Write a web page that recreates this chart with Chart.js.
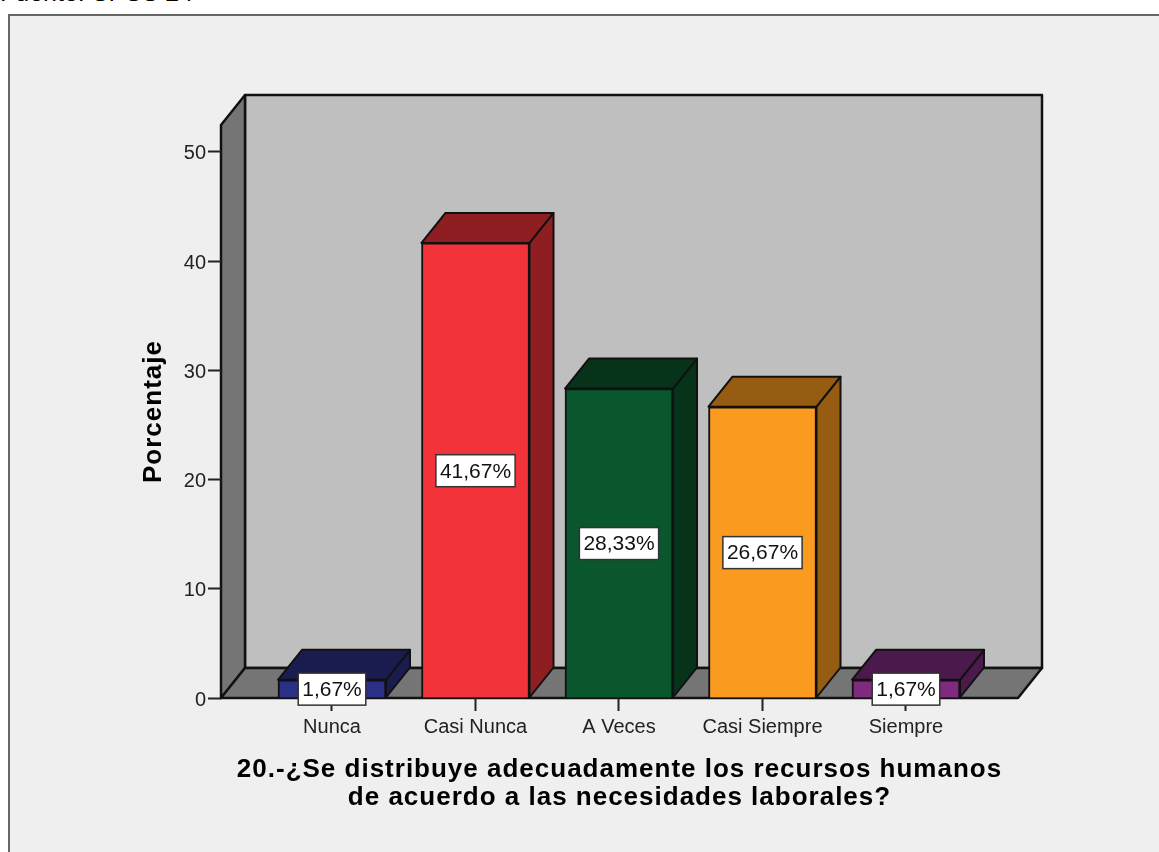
<!DOCTYPE html>
<html>
<head>
<meta charset="utf-8">
<title>Recursos humanos</title>
<script src="https://cdn.jsdelivr.net/npm/chart.js@4/dist/chart.umd.min.js"></script>
<style>
  html, body { margin: 0; background: #fff; overflow: hidden; }
  #source { position: absolute; left: 0; top: -23px; font: 25px/30px "Liberation Sans", sans-serif; color: #000; white-space: nowrap; }
  #frame { position: absolute; left: 8px; top: 14px; width: 1300px; height: 1000px; box-sizing: border-box; border: 2px solid #666; background: #efefef; }
  canvas { position: absolute; left: 0; top: 0; }
</style>
</head>
<body>
<div id="source">Fuente: SPSS 24</div>
<div id="frame"></div>
<canvas id="chart" width="1159" height="852"></canvas>
<script>
const categories = ["Nunca", "Casi Nunca", "A Veces", "Casi Siempre", "Siempre"];
const percentages = [1.67, 41.67, 28.33, 26.67, 1.67];
const frontColors = ["#2b2f85", "#f3333a", "#0b572d", "#fa9a1e", "#7e2a7e"];
const shadeColors = ["#1a1c50", "#8f1e22", "#07331a", "#955c12", "#4b194b"];
const yTicks = [0, 10, 20, 30, 40, 50];

const xTitle = ["20.-¿Se distribuye adecuadamente los recursos humanos", "de acuerdo a las necesidades laborales?"];
const yTitle = "Porcentaje";

const ink = "#111";
const depthX = 24, depthY = 30;

function poly(ctx, pts, fill, width) {
  ctx.beginPath();
  pts.forEach((p, i) => i ? ctx.lineTo(p[0], p[1]) : ctx.moveTo(p[0], p[1]));
  ctx.closePath();
  ctx.fillStyle = fill;
  ctx.fill();
  ctx.lineWidth = width;
  ctx.lineJoin = "round";
  ctx.strokeStyle = ink;
  ctx.stroke();
}

// back wall, side wall and floor of the box
const walls = {
  id: "walls",
  beforeDraw(chart) {
    const { ctx, chartArea: a } = chart;
    ctx.save();
    poly(ctx, [[a.left + depthX, a.top - depthY], [a.right + depthX, a.top - depthY], [a.right + depthX, a.bottom - depthY], [a.left + depthX, a.bottom - depthY]], "#bfbfbf", 2.5);
    poly(ctx, [[a.left, a.top], [a.left + depthX, a.top - depthY], [a.left + depthX, a.bottom - depthY], [a.left, a.bottom]], "#757575", 2.5);
    poly(ctx, [[a.left, a.bottom], [a.left + depthX, a.bottom - depthY], [a.right + depthX, a.bottom - depthY], [a.right, a.bottom]], "#757575", 2.5);
    ctx.restore();
    // the axis titles are drawn spaced out, the tick labels are not
    ctx.letterSpacing = "1px";
  },
  beforeDatasetsDraw(chart) {
    const ctx = chart.ctx;
    ctx.letterSpacing = "0px";
    ctx.save();
    chart.getDatasetMeta(0).data.forEach((bar, i) => {
      const l = bar.x - bar.width / 2, r = bar.x + bar.width / 2;
      poly(ctx, [[r, bar.y], [r + depthX, bar.y - depthY], [r + depthX, bar.base - depthY], [r, bar.base]], shadeColors[i], 2);
      poly(ctx, [[l, bar.y], [l + depthX, bar.y - depthY], [r + depthX, bar.y - depthY], [r, bar.y]], shadeColors[i], 2);
    });
    ctx.restore();
  }
};

// white value boxes in the middle of each bar, sized to their text
const valueBoxes = {
  id: "valueBoxes",
  afterDatasetsDraw(chart) {
    const ctx = chart.ctx;
    ctx.save();
    ctx.font = '21px "Liberation Sans"';
    ctx.textAlign = "center";
    ctx.textBaseline = "middle";
    chart.getDatasetMeta(0).data.forEach((bar, i) => {
      const text = percentages[i].toFixed(2).replace(".", ",") + "%";
      const cy = (bar.y + bar.base) / 2 + 0.5;
      const w = ctx.measureText(text).width + 8, h = 32;
      ctx.fillStyle = "#fff";
      ctx.fillRect(bar.x - w / 2, cy - h / 2, w, h);
      ctx.strokeStyle = "#333";
      ctx.lineWidth = 1.5;
      ctx.strokeRect(bar.x - w / 2, cy - h / 2, w, h);
      ctx.fillStyle = "#111";
      ctx.fillText(text, bar.x, cy + 1);
    });
    ctx.restore();
  }
};

new Chart(document.getElementById("chart"), {
  type: "bar",
  data: {
    datasets: [{
      data: categories.map((c, i) => ({ x: i, y: percentages[i] })),
      backgroundColor: frontColors,
      borderColor: ink,
      borderWidth: 2,
      barThickness: 108
    }]
  },
  plugins: [walls, valueBoxes],
  options: {
    responsive: false,
    animation: false,
    layout: { padding: { left: 130, top: 125, right: 141, bottom: 0 } },
    plugins: { legend: { display: false }, tooltip: { enabled: false } },
    scales: {
      x: {
        type: "linear",
        min: -0.7735,
        max: 4.7805,
        offset: false,
        afterFit(s) { s.height = 154; },
        afterBuildTicks(s) { s.ticks = categories.map((c, i) => ({ value: i })); },
        border: { display: false },
        grid: { offset: false, drawOnChartArea: false, tickLength: 13, tickWidth: 2, tickColor: "#222" },
        ticks: {
          z: 1,
          padding: 4,
          autoSkip: false,
          maxRotation: 0,
          color: "#222",
          font: { family: "Liberation Sans", size: 20 },
          callback: v => categories[v]
        },
        title: {
          display: true,
          text: xTitle,
          color: "#000",
          font: { family: "Liberation Sans", size: 26, weight: "bold", lineHeight: 1.08 },
          padding: { top: 0, bottom: 40 }
        }
      },
      y: {
        min: 0,
        max: 52.47,
        afterFit(s) { s.width = 91; },
        afterBuildTicks(s) { s.ticks = yTicks.map(v => ({ value: v })); },
        border: { display: false },
        grid: { drawOnChartArea: false, tickLength: 13, tickWidth: 2, tickColor: "#222" },
        ticks: {
          z: 1,
          padding: 2,
          labelOffset: 2,
          color: "#222",
          font: { family: "Liberation Sans", size: 20 }
        },
        title: {
          display: true,
          text: yTitle,
          color: "#000",
          font: { family: "Liberation Sans", size: 26, weight: "bold" },
          padding: { top: 8, bottom: 0 }
        }
      }
    }
  }
});
</script>
</body>
</html>
